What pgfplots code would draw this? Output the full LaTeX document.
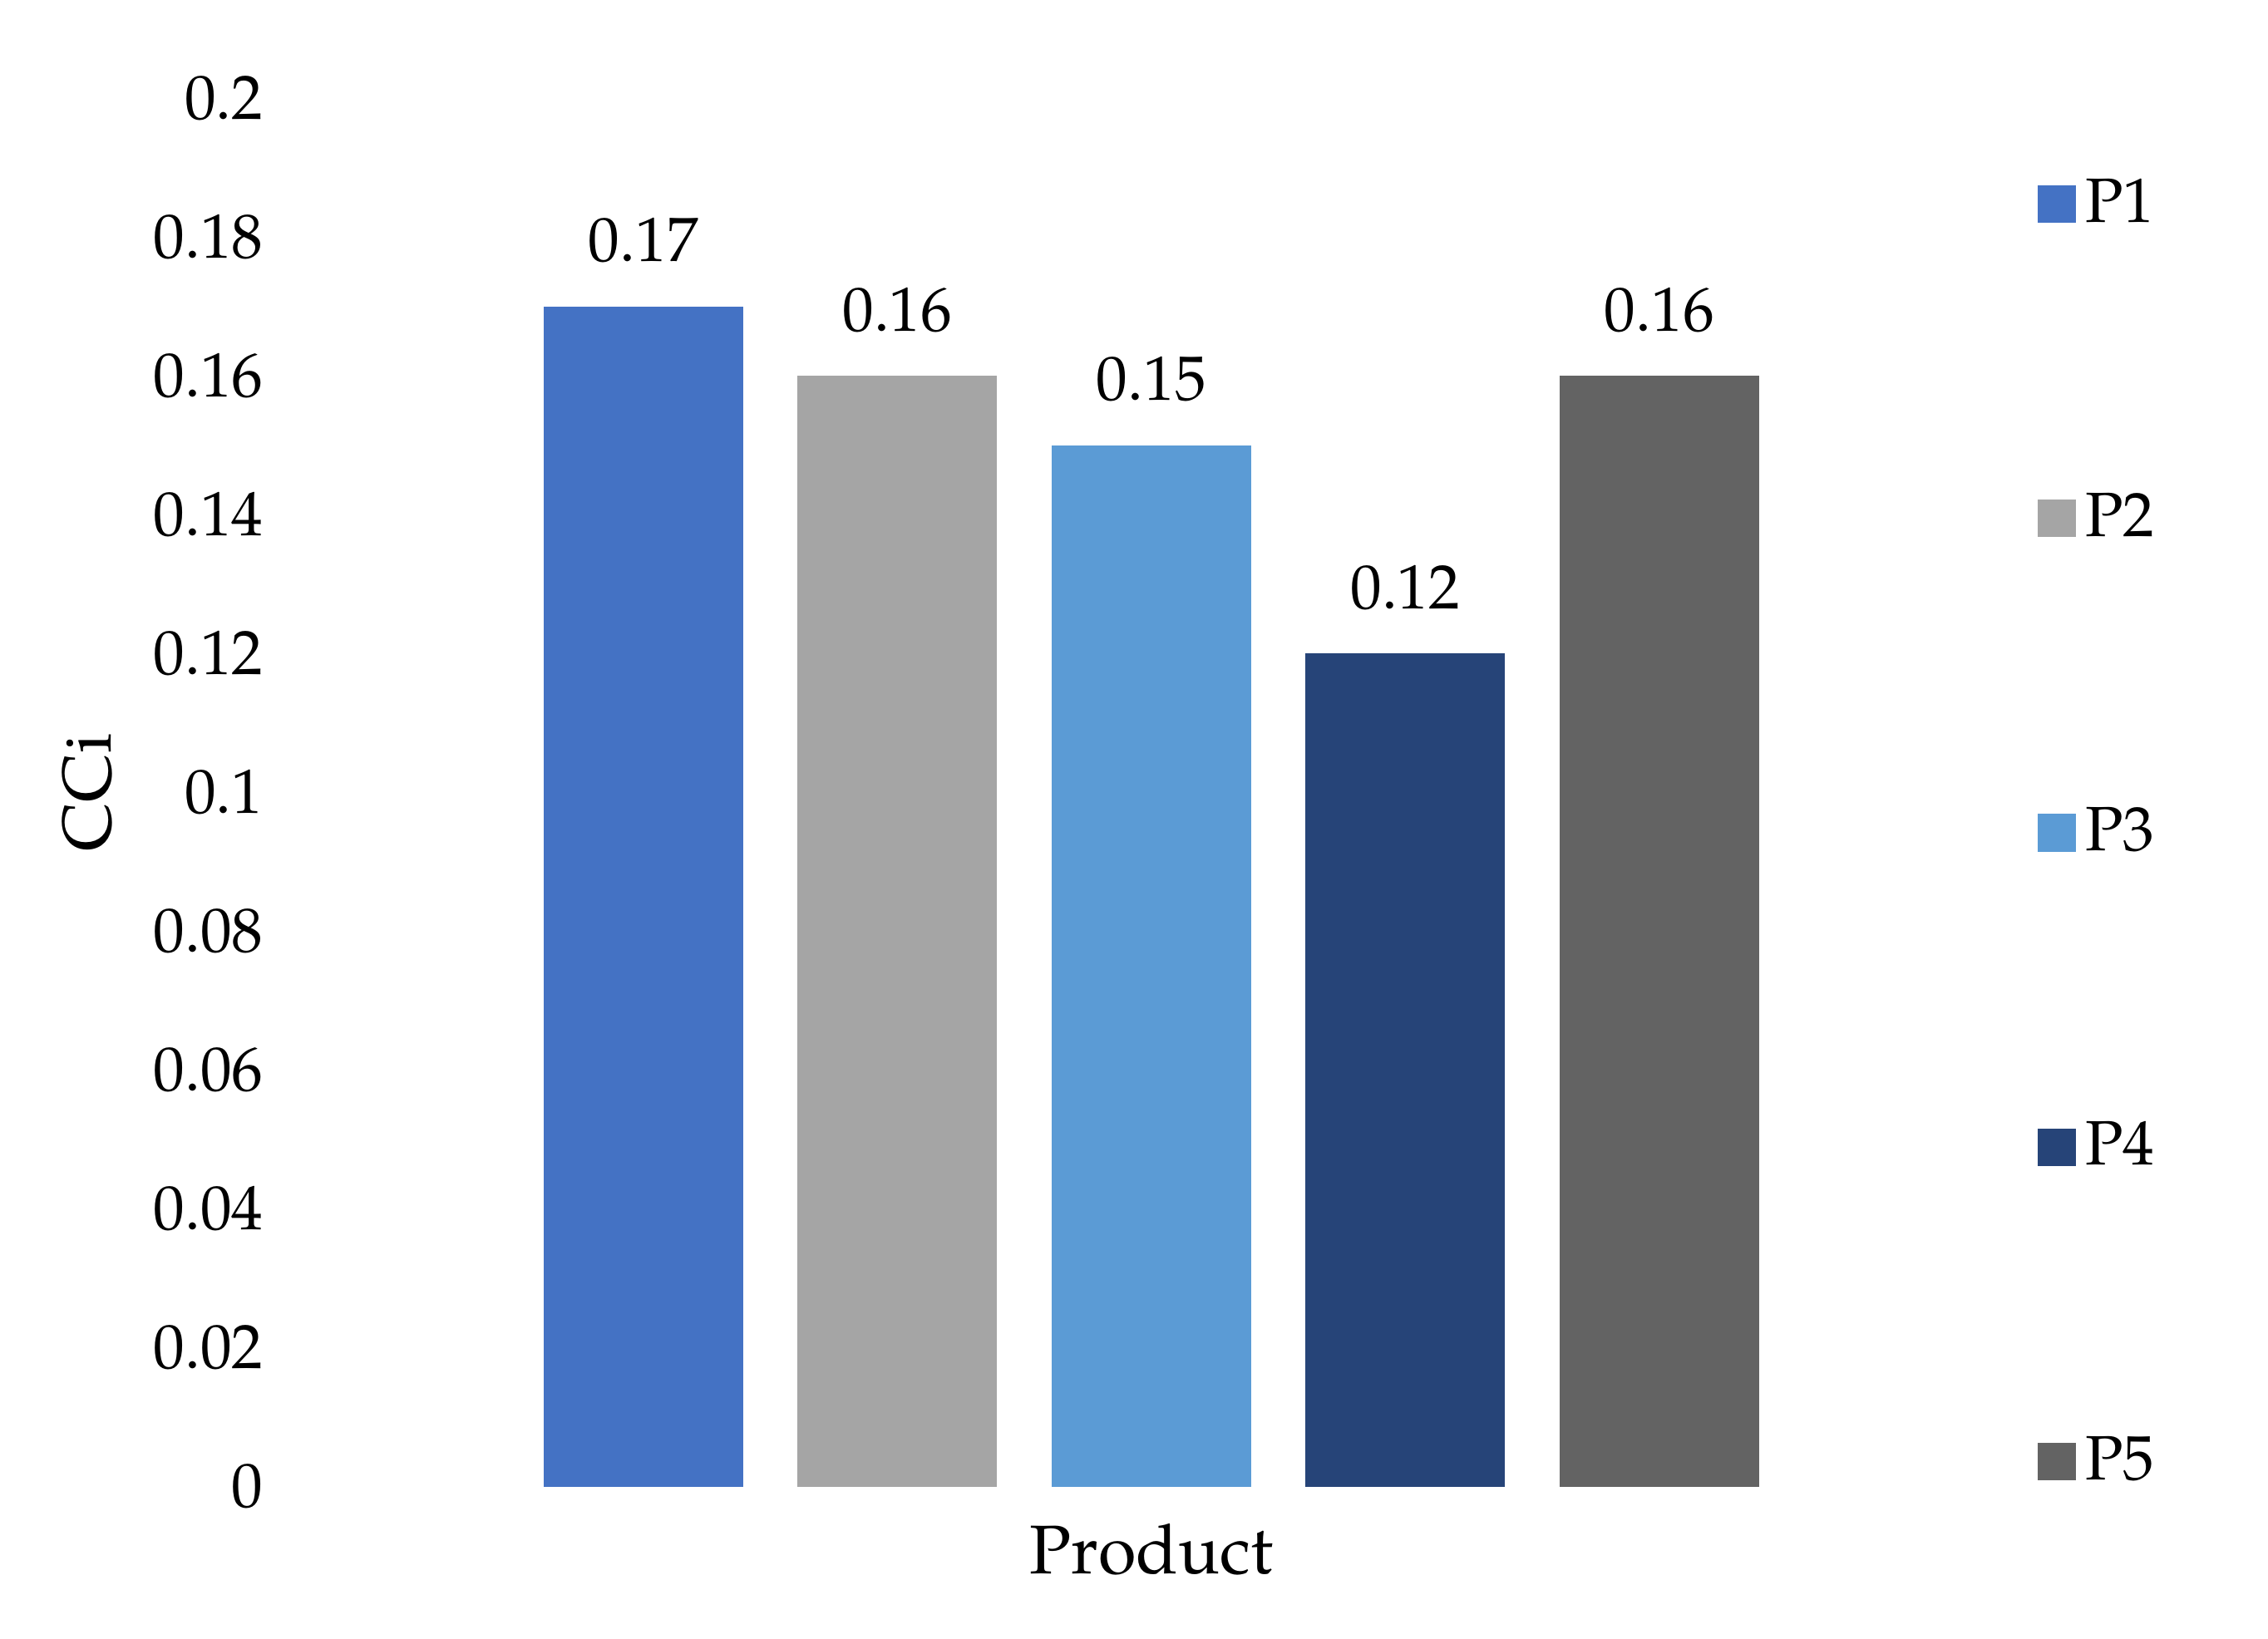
\documentclass[border=0pt]{standalone}
\usepackage{fontspec}
\setmainfont{TeX Gyre Pagella}
\usepackage{pgfplots}
\pgfplotsset{compat=1.18}
\definecolor{cP1}{HTML}{4472C4}
\definecolor{cP2}{HTML}{A5A5A5}
\definecolor{cP3}{HTML}{5B9BD5}
\definecolor{cP4}{HTML}{264478}
\definecolor{cP5}{HTML}{636363}
\pgfplotsset{legsq/.style={legend image code/.code={\fill[##1] (0pt,-3.9pt) rectangle (7.8pt,3.9pt);}}}
\begin{document}
\begin{tikzpicture}
\begin{axis}[name=ax, scale only axis, width=263.4pt, height=288pt,
  xmin=-0.5, xmax=4.5, ymin=0, ymax=0.2,
  ybar, bar width=41.4pt, bar shift=0pt,
  axis line style={draw=none}, major tick length=0pt, xtick=\empty,
  ytick={0,0.02,0.04,0.06,0.08,0.1,0.12,0.14,0.16,0.18,0.2},
  /pgf/number format/assume math mode=true,
  yticklabel style={/pgf/number format/fixed, /pgf/number format/precision=2, anchor=east, xshift=-49pt},
  ticklabel style={font=\fontsize{13}{15}\selectfont},
  label style={font=\fontsize{14.3}{16}\selectfont},
  ylabel={CCi}, ylabel style={at={(axis description cs:-0.338,0.5)}, anchor=center},
  xlabel={Product}, xlabel style={at={(axis description cs:0.5,0)}, anchor=center, yshift=-13pt},
  nodes near coords, every node near coord/.append style={font=\fontsize{13}{15}\selectfont, anchor=south, yshift=5.5pt, /pgf/number format/fixed, /pgf/number format/precision=2},
  legend style={draw=none, at={(rel axis cs:1,1)}, anchor=north west, xshift=52pt, yshift=-14.5pt, font=\fontsize{13}{15}\selectfont, row sep=50.7pt, inner sep=0pt},
  legend cell align=left]
\addplot[fill=cP1, draw=none, legsq] coordinates {(0,0.17)};
\addplot[fill=cP2, draw=none, legsq] coordinates {(1,0.16)};
\addplot[fill=cP3, draw=none, legsq] coordinates {(2,0.15)};
\addplot[fill=cP4, draw=none, legsq] coordinates {(3,0.12)};
\addplot[fill=cP5, draw=none, legsq] coordinates {(4,0.16)};
\legend{P1,P2,P3,P4,P5}
\end{axis}
\path (ax.south west) ++(-107.1pt,-31.5pt) rectangle ++(470.4pt,339.9pt);
\end{tikzpicture}
\end{document}
